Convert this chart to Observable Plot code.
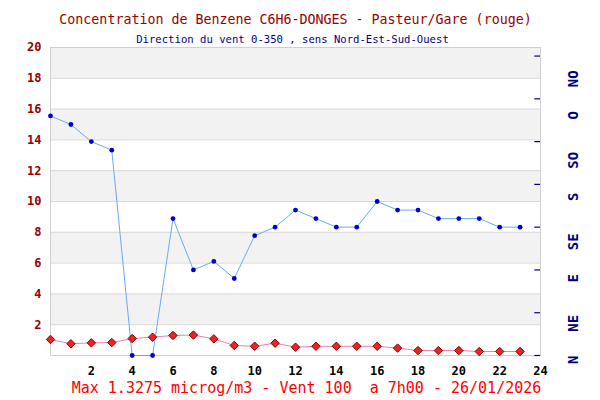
<!DOCTYPE html>
<html>
<head>
<meta charset="utf-8">
<script src="https://cdn.jsdelivr.net/npm/d3@7"></script>
<script src="https://cdn.jsdelivr.net/npm/@observablehq/plot@0.6"></script>
<style>
  body { margin: 0; background: #ffffff; }
  #chart svg { display: block; }
</style>
</head>
<body>
<div id="chart"></div>
<script>
// ---- data ----
const hours = [0,1,2,3,4,5,6,7,8,9,10,11,12,13,14,15,16,17,18,19,20,21,22,23];
const benzene = [1.04, 0.76, 0.82, 0.84, 1.10, 1.19, 1.30, 1.3275, 1.08, 0.65, 0.60, 0.80,
                 0.54, 0.60, 0.60, 0.60, 0.60, 0.48, 0.32, 0.32, 0.32, 0.26, 0.26, 0.26];
const windDir = [280, 270, 250, 240, 0, 0, 160, 100, 110, 90, 140, 150,
                 170, 160, 150, 150, 180, 170, 170, 160, 160, 160, 150, 150];
const xTicks = [2,4,6,8,10,12,14,16,18,20,22,24];
const yTicks = [2,4,6,8,10,12,14,16,18,20];
const windTicks = [0,50,100,150,200,250,300,350];
const windLabels = ["N","NE","E","SE","S","SO","O","NO"];
const titleText = "Concentration de Benzene C6H6-DONGES - Pasteur/Gare (rouge)";
const subtitleText = "Direction du vent 0-350 , sens Nord-Est-Sud-Ouest";
const captionText = "Max 1.3275 microg/m3 - Vent 100  a 7h00 - 26/01/2026";

// ---- derived tables ----
const degPerUnit = 18;       // 360° spans the 0–20 left axis
const labelStep = 47.6;      // spacing of compass labels (degrees)
const rows = hours.map((h, i) => ({h, benz: benzene[i], wind: windDir[i] / degPerUnit}));
const bands = yTicks.filter((d, i) => i % 2 === 0).map(d => [d, d + 2]);
const labelRows = windLabels.map((t, i) => ({t, y: i * labelStep / degPerUnit}));

const font = "DejaVu Sans Mono, Liberation Mono, monospace";

const chart = Plot.plot({
  width: 600,
  height: 400,
  marginLeft: 50,
  marginRight: 60,
  marginTop: 47,
  marginBottom: 45,
  style: {fontFamily: font, background: "#ffffff", overflow: "visible"},
  x: {domain: [0, 24]},
  y: {domain: [0, 20]},
  marks: [
    Plot.rect(bands, {y1: d => d[0], y2: d => d[1], fill: "#f2f2f2"}),
    Plot.ruleY(yTicks, {stroke: "#d9d9d9", strokeWidth: 1}),
    Plot.frame({stroke: "#d0d0d0"}),
    Plot.axisY({ticks: yTicks, tickSize: 0, tickPadding: 9, fontWeight: "bold",
                fontSize: 12, fill: "#990000", label: null, fontFamily: font}),
    Plot.axisX({ticks: xTicks, tickSize: 0, tickPadding: 11, fontWeight: "bold",
                fontSize: 12, fill: "#000000", label: null, fontFamily: font}),
    // wind direction ticks (right)
    Plot.ruleY(windTicks, {y: d => d / degPerUnit, x1: 23.72, x2: 24, stroke: "#000080", strokeWidth: 1.2}),
    Plot.text(labelRows, {y: "y", text: "t", frameAnchor: "right", dx: 33, rotate: -90,
                          fill: "#000080", fontWeight: "bold", fontSize: 14, fontFamily: font}),
    // wind series
    Plot.line(rows, {x: "h", y: "wind", stroke: "#6aaaf0", strokeWidth: 1}),
    Plot.dot(rows, {x: "h", y: "wind", r: 2.4, fill: "#0000cc", stroke: "none"}),
    // benzene series
    Plot.line(rows, {x: "h", y: "benz", stroke: "#ee7fb0", strokeWidth: 1}),
    Plot.dot(rows, {x: "h", y: "benz", symbol: "diamond2", r: 3.8, fill: "#ee2222",
                    stroke: "#8b0000", strokeWidth: 1}),
    // texts
    Plot.text([titleText], {frameAnchor: "top", dy: -33, fontSize: 13.3, fill: "#990000", fontFamily: font}),
    Plot.text([subtitleText], {frameAnchor: "top", dy: -12, dx: -3, fontSize: 10.6, fill: "#000080", fontFamily: font}),
    Plot.text([captionText], {frameAnchor: "bottom", dy: 37.5, dx: 11, fontSize: 15, fill: "#ff0000", fontFamily: font})
  ]
});
document.getElementById("chart").appendChild(chart);
</script>
</body>
</html>
